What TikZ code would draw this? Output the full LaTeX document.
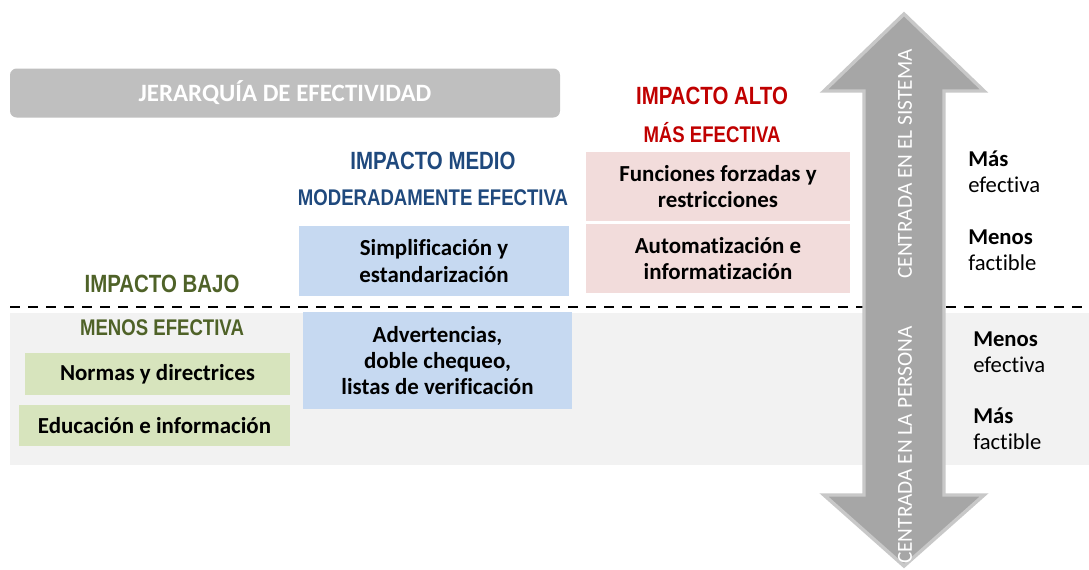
\documentclass[tikz,border=0pt]{standalone}
\usepackage{fontspec}
\setmainfont{Carlito}[Ligatures=CommonOff]
\newfontfamily\narrowfont[FakeStretch=0.82]{Liberation Sans}
\usetikzlibrary{calc}
\definecolor{bandgray}{HTML}{F2F2F2}
\definecolor{titlegray}{HTML}{BFBFBF}
\definecolor{arrowgray}{HTML}{A6A6A6}
\definecolor{arrowedge}{HTML}{C8C8C8}
\definecolor{greenbox}{HTML}{D7E4BD}
\definecolor{greentext}{HTML}{4F6228}
\definecolor{bluebox}{HTML}{C6D9F1}
\definecolor{bluetext}{HTML}{1F497D}
\definecolor{pinkbox}{HTML}{F2DCDB}
\definecolor{redtext}{HTML}{C00000}
\tikzset{
  body/.style={font=\fontsize{17.2}{19.8}\selectfont\bfseries, align=center, text=black},
  side/.style={font=\fontsize{17}{19.5}\selectfont, align=left, anchor=west, text=black, inner sep=0pt},
  head/.style={font=\narrowfont\bfseries\fontsize{18.7}{20}\selectfont, inner sep=0pt},
  subhead/.style={font=\narrowfont\bfseries\fontsize{17}{18}\selectfont, inner sep=0pt},
  vert/.style={font=\fontsize{16}{18}\selectfont, text=white, rotate=90, inner sep=0pt},
}
\begin{document}
\begin{tikzpicture}[x=0.75pt,y=-0.75pt]
\useasboundingbox (0,0) rectangle (1089,569);
% background band
\fill[bandgray] (10,313) rectangle (1089,465);
% dashed separator
\coordinate (dl) at (10,307);
\coordinate (dr) at (1089,307);
\draw[line width=1.9pt, dash pattern=on 7.5pt off 6pt] (dl) -- (dr);
% title bar
\node[fill=titlegray, rounded corners=5pt, minimum width=550*0.75pt, minimum height=49*0.75pt,
      text=white, font=\fontsize{18.7}{20}\selectfont\bfseries] (title) at (285,93) {JERARQUÍA DE EFECTIVIDAD};
% low impact
\node[head, text=greentext] (bajo) at (162,284) {IMPACTO BAJO};
\node[subhead, text=greentext] (menos) at (162,328) {MENOS EFECTIVA};
\node[body, fill=greenbox, minimum width=265*0.75pt, minimum height=42*0.75pt, inner sep=0pt] (normas) at (157.5,374) {Normas y directrices};
\node[body, fill=greenbox, minimum width=271*0.75pt, minimum height=41*0.75pt, inner sep=0pt] (educ) at (154.5,425.5) {Educación e información};
% medium impact
\node[head, text=bluetext] (medio) at (433,161) {IMPACTO MEDIO};
\node[subhead, text=bluetext] (moder) at (433,198) {MODERADAMENTE EFECTIVA};
\node[body, fill=bluebox, minimum width=270*0.75pt, minimum height=70*0.75pt, inner sep=0pt] (simpl) at (434,261) {Simplificación y\\estandarización};
\node[body, fill=bluebox, minimum width=269*0.75pt, minimum height=97*0.75pt, inner sep=0pt] (advert) at (437.5,360.5) {Advertencias,\\doble chequeo,\\listas de verificación};
% high impact
\node[head, text=redtext] (alto) at (712,96) {IMPACTO ALTO};
\node[subhead, text=redtext] (mas) at (712,133) {MÁS EFECTIVA};
\node[body, fill=pinkbox, minimum width=264*0.75pt, minimum height=69*0.75pt, inner sep=0pt] (func) at (718,186.5) {Funciones forzadas y\\restricciones};
\node[body, fill=pinkbox, minimum width=264*0.75pt, minimum height=69*0.75pt, inner sep=0pt] (auto) at (718,258.5) {Automatización e\\informatización};
% double arrow
\draw[fill=arrowgray, draw=arrowedge, line width=2.6pt, line join=miter]
  (904,14) -- (984,91) -- (944,91) -- (944,495) -- (984,495) -- (904,566)
  -- (824,495) -- (864,495) -- (864,91) -- (824,91) -- cycle;
\node[vert] (sist) at (905,164) {CENTRADA EN EL SISTEMA};
\node[vert] (pers) at (905,445) {CENTRADA EN LA PERSONA};
% side labels
\node[side] (s1) at (968,171.5) {\textbf{Más}\\efectiva};
\node[side] (s2) at (968,250) {\textbf{Menos}\\factible};
\node[side] (s3) at (973,352.5) {\textbf{Menos}\\efectiva};
\node[side] (s4) at (973,429) {\textbf{Más}\\factible};
\end{tikzpicture}
\end{document}
